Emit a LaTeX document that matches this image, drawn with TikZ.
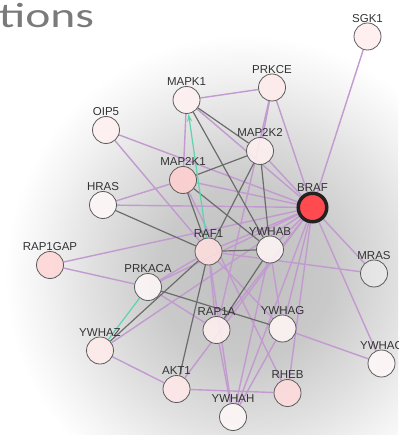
\documentclass[tikz,border=0pt]{standalone}
\usepackage{fontspec}
\setmainfont{Liberation Sans}
\newfontfamily\headfont{Carlito}
\usetikzlibrary{arrows.meta}

\definecolor{edgepurple}{HTML}{C29AD0}
\definecolor{edgegray}{HTML}{6C6C6C}
\definecolor{edgeteal}{HTML}{5CD4B0}
\definecolor{ringgray}{HTML}{5A5A5A}
\definecolor{labelgray}{HTML}{333333}
\definecolor{headgray}{HTML}{7A7A7A}
\definecolor{brafred}{HTML}{FF4B4F}
\definecolor{brafring}{HTML}{222222}

% soft grey glow behind the network (25bp = radius of the shaded circle)
\pgfdeclareradialshading{netglow}{\pgfpointorigin}{%
  color(0bp)=(black!25); color(9bp)=(black!21); color(16bp)=(black!12);
  color(21bp)=(black!5); color(25bp)=(white); color(50bp)=(white)}

\pgfdeclarelayer{glow}
\pgfdeclarelayer{edges}
\pgfsetlayers{glow,edges,main}

\tikzset{
  prot/.style={circle, draw=ringgray, line width=0.8pt, minimum size=27pt,
    inner sep=0pt, fill opacity=0.88, text opacity=1,
    label distance=4.3pt},
  lbl/.style={font=\fontsize{11.5}{12}\selectfont, text=labelgray, inner sep=0pt},
  pe/.style={draw=edgepurple, line width=1.4pt},
  ge/.style={draw=edgegray, line width=1.2pt},
  te/.style={draw=edgeteal, line width=1.2pt},
}

\begin{document}
\begin{tikzpicture}[x=1pt, y=-1pt]
\useasboundingbox (0,0) rectangle (398,435);

% heading fragment
\node[anchor=base west, inner sep=0pt, text=headgray, xscale=1.36,
  font=\headfont\fontsize{35}{38}\selectfont] (head) at (-1.5,28) {tions};

% proteins
\node[prot, fill=red!7, label={[lbl]above:SGK1}] (SGK1) at (367.5,36.5) {};
\node[prot, fill=red!8, label={[lbl]above:PRKCE}] (PRKCE) at (272,87.5) {};
\node[prot, fill=red!6, label={[lbl]above:MAPK1}] (MAPK1) at (186.5,100) {};
\node[prot, fill=red!6, label={[lbl]above:OIP5}] (OIP5) at (106,130) {};
\node[prot, fill=red!6, label={[lbl]above:MAP2K2}] (MAP2K2) at (260,151) {};
\node[prot, fill=red!19, label={[lbl]above:MAP2K1}] (MAP2K1) at (183,180) {};
\node[prot, fill=red!3, label={[lbl]above:HRAS}] (HRAS) at (103,205) {};
\node[prot, fill=red!13, label={[lbl]above:RAF1}] (RAF1) at (208.5,251.5) {};
\node[prot, fill=red!4, label={[lbl]above:YWHAB}] (YWHAB) at (270,249.5) {};
\node[prot, fill=white, fill opacity=0.35, label={[lbl]above:MRAS}] (MRAS) at (374,273.5) {};
\node[prot, fill=red!16, label={[lbl]above:RAP1GAP}] (RAP1GAP) at (50,265) {};
\node[prot, fill=red!3, label={[lbl]above:PRKACA}] (PRKACA) at (148,287) {};
\node[prot, fill=red!6, label={[lbl]above:RAP1A}] (RAP1A) at (216.5,330) {};
\node[prot, fill=red!4, label={[lbl]above:YWHAG}] (YWHAG) at (282.5,328.5) {};
\node[prot, fill=red!3, label={[lbl]above:YWHAC}] (YWHAC) at (381.5,363.5) {};
\node[prot, fill=red!8, label={[lbl]above:YWHAZ}] (YWHAZ) at (100,350.5) {};
\node[prot, fill=red!9, label={[lbl]above:AKT1}] (AKT1) at (176.5,389) {};
\node[prot, fill=red!14, label={[lbl]above:RHEB}] (RHEB) at (287.5,393) {};
\node[prot, fill=red!3, label={[lbl]above:YWHAH}] (YWHAH) at (233,417) {};
\node[circle, draw=brafring, line width=3.5pt, fill=brafred, minimum size=28.5pt,
  inner sep=0pt, label={[lbl]above:BRAF}, label distance=2.5pt] (BRAF) at (312.5,207.5) {};

\begin{pgfonlayer}{glow}
  \begin{scope}
    \clip (0,0) rectangle (398,435);
    \shade[shading=netglow] (245,275) circle (240pt);
  \end{scope}
\end{pgfonlayer}

% interactions, drawn beneath the proteins
\begin{pgfonlayer}{edges}
  \foreach \a/\b in {SGK1/BRAF, PRKCE/MAPK1, PRKCE/MAP2K2, PRKCE/BRAF, PRKCE/RAP1A,
      MAPK1/MAP2K1, MAPK1/BRAF, OIP5/BRAF, OIP5/RAF1, MAP2K2/BRAF,
      MAP2K1/HRAS, MAP2K1/BRAF, MAP2K1/RHEB, HRAS/BRAF, RAP1GAP/BRAF,
      RAP1GAP/PRKACA, RAF1/BRAF, RAF1/MRAS, RAF1/RAP1A, RAF1/YWHAG,
      RAF1/YWHAH, PRKACA/RAF1, PRKACA/BRAF, PRKACA/RAP1A, YWHAZ/BRAF,
      YWHAZ/AKT1, AKT1/BRAF, AKT1/RHEB, YWHAB/BRAF, YWHAB/YWHAG,
      YWHAB/YWHAH, BRAF/MRAS, BRAF/YWHAC, BRAF/YWHAG, BRAF/RAP1A,
      BRAF/YWHAH, BRAF/RHEB, YWHAG/YWHAC, YWHAG/YWHAH, RAP1A/YWHAH}
    \draw[pe] (\a) -- (\b);
  \foreach \a/\b in {MAPK1/MAP2K2, MAPK1/YWHAB, MAP2K1/MAP2K2, MAP2K1/RAF1,
      MAP2K1/YWHAB, MAP2K2/RAF1, MAP2K2/YWHAB, HRAS/RAF1, RAF1/YWHAB,
      YWHAZ/RAF1, PRKACA/YWHAG, AKT1/RAF1, YWHAB/RAP1A}
    \draw[ge] (\a) -- (\b);
  \draw[te, -{Stealth[length=8pt, width=5pt]}] (RAF1) -- (MAPK1);
  \draw[te] (YWHAZ) -- (PRKACA);
\end{pgfonlayer}
\end{tikzpicture}
\end{document}
